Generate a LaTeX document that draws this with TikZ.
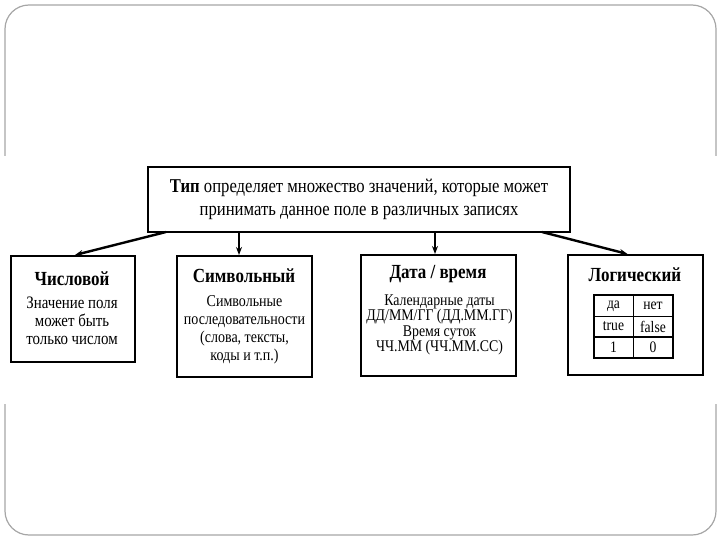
\documentclass[tikz,border=0pt]{standalone}
\usepackage{fontspec}
\setmainfont[FakeStretch=0.85]{Liberation Serif}
\usetikzlibrary{arrows.meta}
\begin{document}
\begin{tikzpicture}[x=1pt,y=-1pt,
  box/.style={draw=black,line width=2pt,rectangle,inner sep=0pt},
  ttl/.style={font=\fontsize{20}{22}\selectfont\bfseries,inner sep=0pt},
  body/.style={font=\fontsize{16.5}{18}\selectfont,align=center,inner sep=0pt},
  arr/.style={line width=2.4pt,-{Stealth[length=8pt,width=6pt]}},
  varr/.style={line width=1.6pt,-{Stealth[length=8pt,width=6pt]}},
  cell/.style={font=\fontsize{16}{16}\selectfont,inner sep=0pt}]
\useasboundingbox (0,0) rectangle (720,540);
% slide frame
\draw[gray!70,line width=1.2pt,rounded corners=24pt] (5,5) rectangle (716,535);
\fill[white] (0,156) rectangle (720,404);
% top box
\node[box,minimum width=422pt,minimum height=65pt,align=center,
  font=\fontsize{19.6}{23}\selectfont] (top) at (359,199.5)
  {\textbf{Тип} определяет множество значений, которые может\\принимать данное поле в различных записях};
% child boxes
\node[box,minimum width=124pt,minimum height=106pt] (num) at (73,309) {};
\node[box,minimum width=135pt,minimum height=121pt] (sym) at (244.5,316.5) {};
\node[box,minimum width=155pt,minimum height=121pt] (dt) at (438.5,315.5) {};
\node[box,minimum width=135pt,minimum height=120pt] (log) at (635.5,315) {};
% titles
\node[ttl] (numT) at (72,279) {Числовой};
\node[ttl] (symT) at (244,276) {Символьный};
\node[ttl] (dtT) at (438,274) {Дата / время};
\node[ttl] (logT) at (635,275) {Логический};
% bodies
\node[body,font=\fontsize{17.5}{18}\selectfont] (numB) at (72,321) {Значение поля\\может быть\\только числом};
\node[body] (symB) at (244.5,329.5) {Символьные\\последовательности\\(слова, тексты,\\коды и т.п.)};
\node[body,font=\fontsize{16.3}{15.5}\selectfont] (dtB) at (439.5,325) {Календарные даты\\ДД/ММ/ГГ (ДД.ММ.ГГ)\\Время суток\\ЧЧ.ММ (ЧЧ.ММ.СС)};
% table
\draw[line width=1.3pt] (594,295) rectangle (673,358);
\draw[line width=1pt] (594,316) -- (673,316);
\draw[line width=2pt] (594,337) -- (673,337);
\draw[line width=1pt] (633,295) -- (633,358);
\node[cell] (c11) at (613.5,306) {да};
\node[cell] (c12) at (653,306) {нет};
\node[cell] (c21) at (613.5,326.5) {true};
\node[cell] (c22) at (653,326.5) {false};
\node[cell] (c31) at (613.5,347.5) {1};
\node[cell] (c32) at (653,347.5) {0};
% connectors
\coordinate (s1) at (166,232);
\coordinate (s4) at (542,232);
\draw[arr] (s1) -- ([xshift=2pt]num.north);
\draw[varr] (top.south -| 239,0) -- (sym.north -| 239,0);
\draw[varr] (top.south -| 435,0) -- (dt.north -| 435,0);
\draw[arr] (s4) -- ([xshift=-8pt]log.north);
\end{tikzpicture}
\end{document}
